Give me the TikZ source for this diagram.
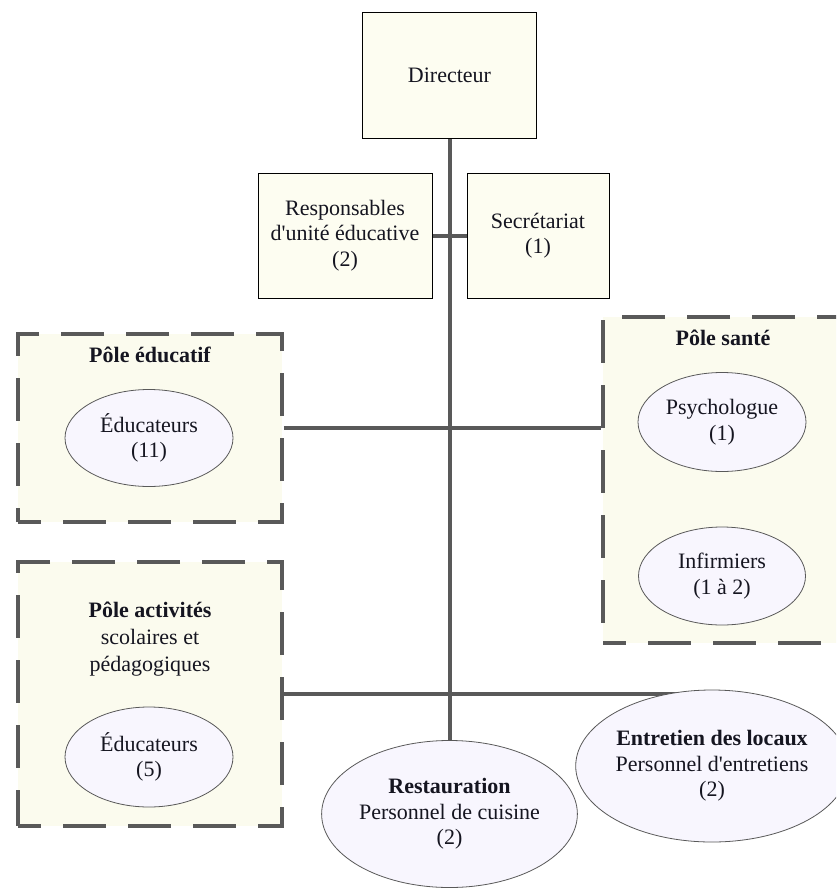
\documentclass[tikz,border=0pt]{standalone}
\usepackage{fontspec}
\setmainfont{Liberation Serif}[Ligatures=TeXOff]
\usetikzlibrary{shapes.geometric,backgrounds}
\definecolor{boxfill}{HTML}{FDFDF1}
\definecolor{zonefill}{HTML}{FBFBEE}
\definecolor{ellfill}{HTML}{F8F6FE}
\definecolor{linegray}{HTML}{595959}
\definecolor{txt}{HTML}{151520}
\tikzset{
  every node/.style={font=\fontsize{22}{25.5}\selectfont, text=txt, align=center, inner sep=0pt},
  solidbox/.style={draw=black, line width=0.9pt, fill=boxfill, rectangle},
  zone/.style={draw=linegray, line width=3.5pt, fill=zonefill, rectangle, dash pattern=on 43pt off 22pt, dash phase=20pt},
  oval/.style={draw=linegray, line width=0.8pt, fill=ellfill, ellipse},
  link/.style={draw=linegray, line width=4pt},
  ttl/.style={font=\bfseries\fontsize{22}{25.5}\selectfont}
}
\begin{document}
\begin{tikzpicture}[x=1pt,y=-1pt]
\clip (0,0) rectangle (836,889);
% zones
\node[zone, minimum width=264, minimum height=188] (pedu) at (150,428) {};
\node[zone, minimum width=248, minimum height=326] (psante) at (727,480) {};
\node[zone, minimum width=264, minimum height=264] (pact) at (150,694) {};
% boxes
\node[solidbox, minimum width=174, minimum height=126] (dir) at (449.5,75) {Directeur};
\node[solidbox, minimum width=174, minimum height=125] (resp) at (345,235.5) {Responsables\\d'unité éducative\\(2)};
\node[solidbox, minimum width=142, minimum height=125] (secr) at (538,235.5) {Secrétariat\\(1)};
% zone titles
\node[ttl] (peduttl) at (150,355) {Pôle éducatif};
\node[ttl] (psantettl) at (723,338) {Pôle santé};
\node[font=\fontsize{22}{27}\selectfont] (pactttl) at (150,639) {\textbf{Pôle activités}\\scolaires et\\pédagogiques};
% ellipses
\node[oval, minimum width=168, minimum height=97] (educ1) at (149,438) {Éducateurs\\(11)};
\node[oval, minimum width=168, minimum height=99] (psy) at (722,422) {Psychologue\\(1)};
\node[oval, minimum width=167, minimum height=98] (inf) at (722,576) {Infirmiers\\(1 à 2)};
\node[oval, minimum width=168, minimum height=100] (educ2) at (149,757) {Éducateurs\\(5)};
\node[oval, minimum width=254, minimum height=147] (resto) at (449.5,814) {\textbf{Restauration}\\Personnel de cuisine\\(2)};
\node[oval, minimum width=239, minimum height=152] (entr) at (712,766) {\textbf{Entretien des locaux}\\Personnel d'entretiens\\(2)};
% connectors
\begin{scope}[on background layer]
\fill[white] (0,0) rectangle (836,889);
\draw[link] (dir.south) -- (resto.north);
\draw[link] (resp.east) -- (secr.west);
\draw[link] (pedu.east) -- (pedu.east -| psante.west);
\draw[link] (pact.east) -- (pact.east -| entr.north);
\end{scope}
\end{tikzpicture}
\end{document}
